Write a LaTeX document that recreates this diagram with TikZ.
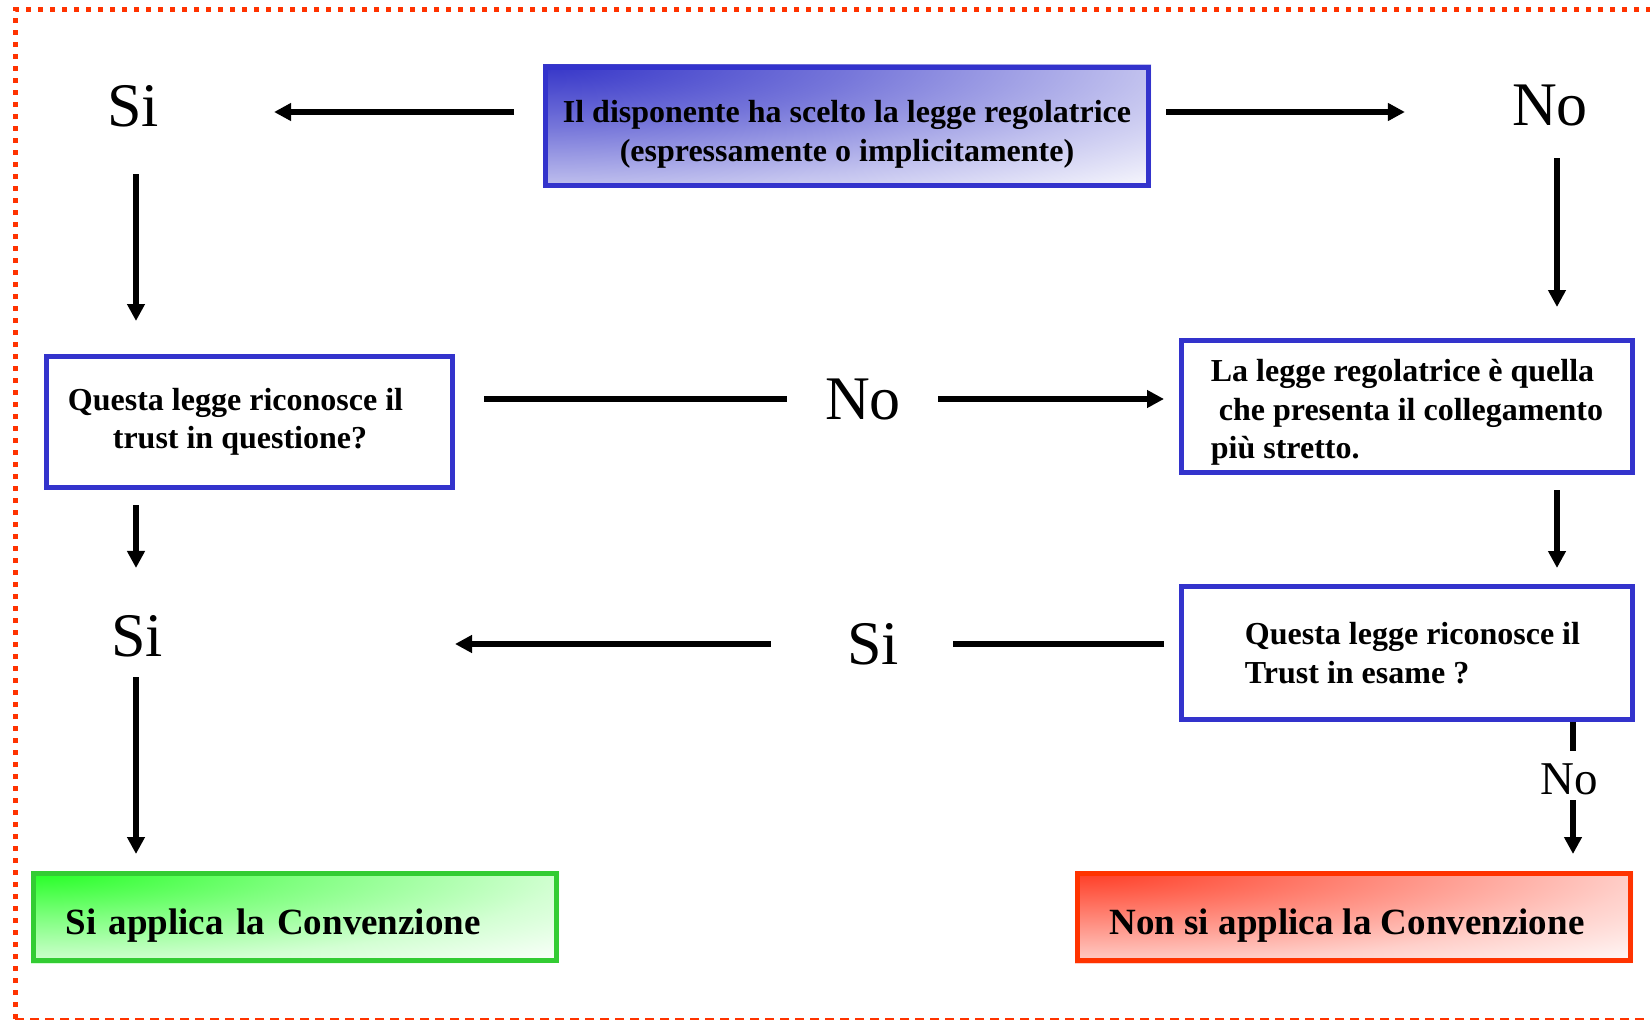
\documentclass[tikz,border=0pt]{standalone}
\usepackage{fontspec}
\setmainfont{Liberation Serif}
\usetikzlibrary{arrows.meta,calc}
\pgfdeclarelayer{background}
\pgfsetlayers{background,main}
\definecolor{bbord}{HTML}{3333CC}
\definecolor{bfill}{HTML}{3535C8}
\definecolor{gbord}{HTML}{33CC33}
\definecolor{gfill}{HTML}{22FF22}
\definecolor{rbord}{HTML}{FF3300}
\definecolor{rfill}{HTML}{FF3A22}
\definecolor{fbord}{HTML}{FF3300}
\pgfdeclareradialshading{bluerad}{\pgfpointorigin}{color(0bp)=(bfill); color(8.85bp)=(bfill!68!white); color(17.7bp)=(bfill!30!white); color(25bp)=(bfill!3!white); color(50bp)=(bfill!3!white)}
\pgfdeclareradialshading{greenrad}{\pgfpointorigin}{color(0bp)=(gfill); color(8.85bp)=(gfill!58!white); color(17.7bp)=(gfill!20!white); color(25bp)=(white); color(50bp)=(white)}
\pgfdeclareradialshading{redrad}{\pgfpointorigin}{color(0bp)=(rfill); color(8.85bp)=(rfill!62!white); color(17.7bp)=(rfill!24!white); color(25bp)=(rfill!2!white); color(50bp)=(rfill!2!white)}
\begin{document}
\begin{tikzpicture}[x=1pt,y=-1pt,
  box/.style={draw=bbord, line width=5pt, inner sep=0pt, font=\fontsize{32}{38.5}\selectfont\bfseries},
  big/.style={inner sep=0pt, font=\fontsize{62}{62}\selectfont},
  arr/.style={line width=5.5pt, -{Triangle[length=17pt,width=17pt]}},
  ln/.style={line width=6pt},
]
\useasboundingbox (0,0) rectangle (1650,1022);
\draw[fbord, line width=5pt, dash pattern=on 5pt off 7pt] (15,1019) -- (15,10) -- (1650,10);
\draw[fbord, line width=2.5pt, dash pattern=on 9pt off 6pt] (15,1019) -- (1650,1019);

% boxes
\node[box, minimum width=603pt, minimum height=118pt, align=center] (top) at (847,126.5)
  {\rule{0pt}{38pt}Il disponente ha scelto la legge regolatrice\\(espressamente o implicitamente)};
\node[box, fill=white, minimum width=406pt, minimum height=131pt, align=center] (q1) at (249.5,422)
  {Questa legge riconosce il\hspace*{28pt}\\trust in questione?\hspace*{19pt}};
\node[box, fill=white, minimum width=451pt, minimum height=132pt, align=left] (cl) at (1407,406.5)
  {\rule{0pt}{34pt}La legge regolatrice è quella\\\hspace*{8pt}che presenta il collegamento\\più stretto.};
\node[box, fill=white, minimum width=451pt, minimum height=133pt, align=left] (q2) at (1407,653)
  {\hspace*{11pt}Questa legge riconosce il\\\hspace*{11pt}Trust in esame ?};
\node[box, draw=gbord, text width=459pt, inner xsep=32pt, minimum height=87pt, text height=42pt, text depth=8pt, align=left, font=\fontsize{37}{40}\selectfont\bfseries] (yes) at (295,917)
  {Si applica la Convenzione};
\node[box, draw=rbord, minimum width=553pt, minimum height=87pt, text height=42pt, text depth=8pt, font=\fontsize{37}{40}\selectfont\bfseries] (no) at (1354,917)
  {Non si applica la Convenzione\hspace*{14pt}};

% gradient fills
\begin{pgfonlayer}{background}
\begin{scope}
\clip (top.north west) rectangle (top.south east);
\shade[shading=bluerad] (top.north west) ellipse [x radius=860pt, y radius=174pt];
\end{scope}
\begin{scope}
\clip (yes.north west) rectangle (yes.south east);
\shade[shading=greenrad] (yes.north west) ellipse [x radius=752pt, y radius=130pt];
\end{scope}
\begin{scope}
\clip (no.north west) rectangle (no.south east);
\shade[shading=redrad] (no.north west) ellipse [x radius=795pt, y radius=130pt];
\end{scope}
\end{pgfonlayer}

% labels
\node[big] (si1) at (133,106) {Si};
\node[big] (no1) at (1550,106) {No};
\node[big] (no2) at (863,400) {No};
\node[big] (si2) at (137,636) {Si};
\node[big] (si3) at (873,644) {Si};
\node[inner sep=0pt, font=\fontsize{47}{47}\selectfont] (no3) at (1569,779) {No};

% connectors
\draw[arr] ([shift={(-29pt,14.5pt)}]top.west) -- ([shift={(115pt,-6pt)}]si1.east);
\draw[arr] ([shift={(15pt,14.5pt)}]top.east) -- ([shift={(-107pt,-6pt)}]no1.west);
\draw[arr] ([shift={(3pt,-47pt)}]si1.south) -- ($(si1.south |- q1.north)+(3pt,33pt)$);
\draw[arr] ([shift={(7pt,-31.5pt)}]no1.south) -- ($(no1.south |- cl.north)+(7pt,31pt)$);
\draw[ln] ([shift={(29pt,23pt)}]q1.east) -- ([shift={(-38pt,1pt)}]no2.west);
\draw[arr] ([shift={(37pt,1pt)}]no2.east) -- ([shift={(-15pt,7.5pt)}]cl.west);
\draw[arr] ($(no1.south |- cl.south)+(7pt,-15pt)$) -- ($(no1.south |- q2.north)+(7pt,16pt)$);
\draw[arr] ($(si1.south |- q1.south)+(3pt,-15pt)$) -- ($(si1.south |- si2.north)+(3pt,47pt)$);
\draw[ln] ([shift={(-15pt,9pt)}]q2.west) -- ([shift={(54pt,0pt)}]si3.east);
\draw[arr] ([shift={(-76pt,0pt)}]si3.west) -- (q1.east |- si3.west);
\draw[arr] ([shift={(-1pt,-20pt)}]si2.south) -- ($(si2.south |- yes.north)+(-1pt,17pt)$);
\draw[line width=5.5pt] ($(no3.north |- q2.south)+(4pt,0pt)$) -- ([shift={(4pt,12.5pt)}]no3.north);
\draw[arr] ([shift={(4pt,-5.5pt)}]no3.south) -- ($(no3.south |- no.north)+(4pt,17pt)$);
\end{tikzpicture}
\end{document}
